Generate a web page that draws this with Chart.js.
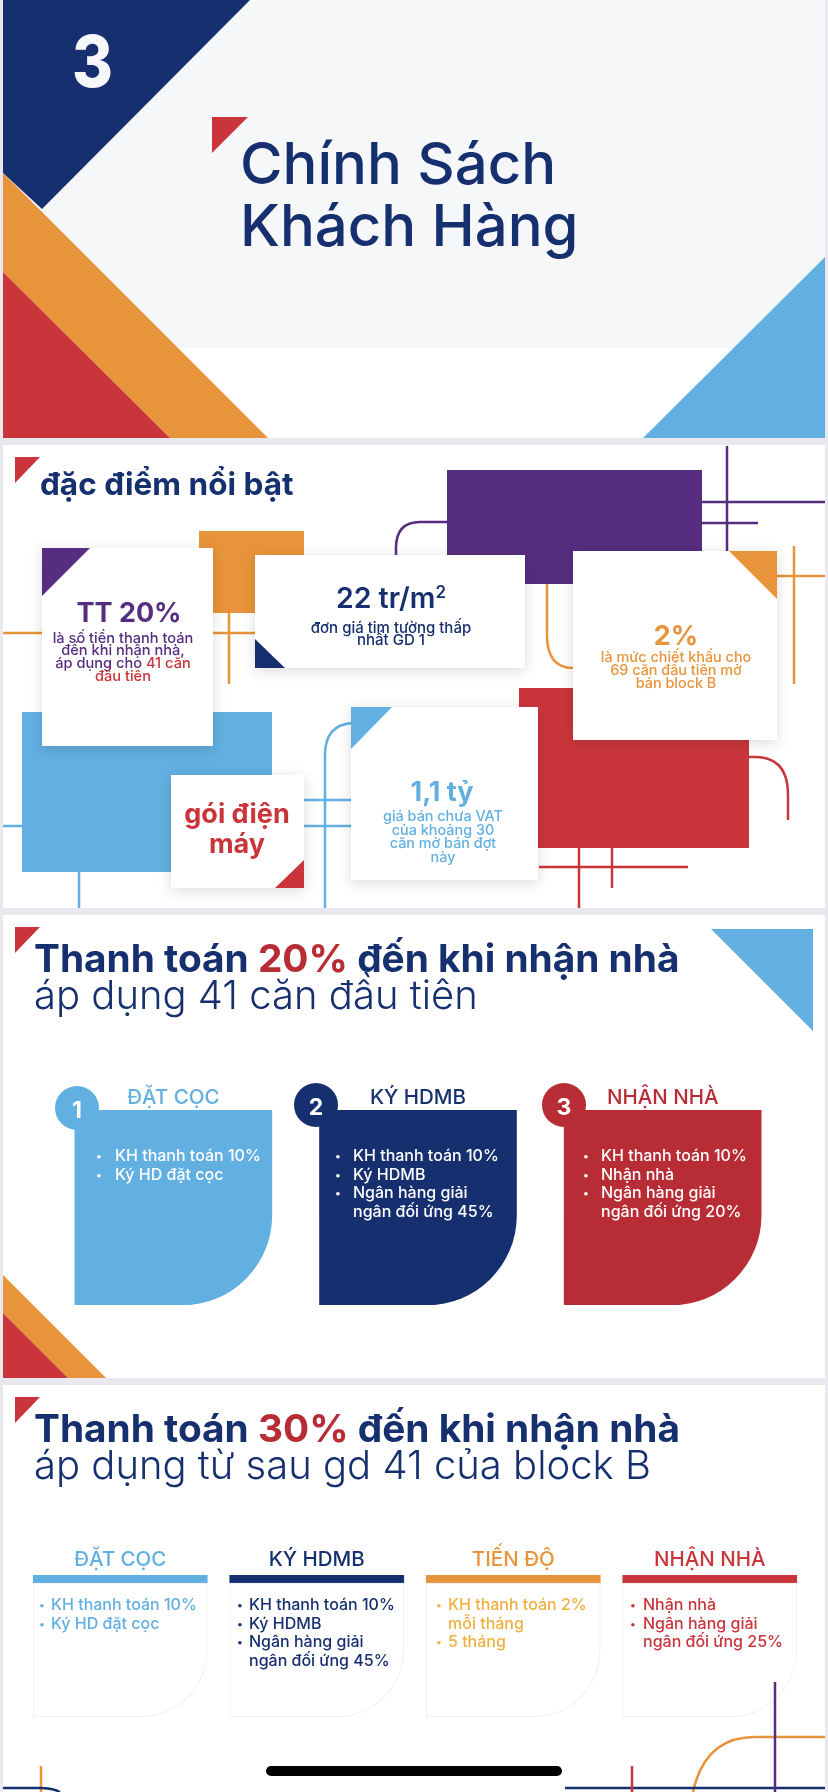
<!DOCTYPE html>
<html>
<head>
<meta charset="utf-8">
<script src="https://cdn.jsdelivr.net/npm/chart.js@4"></script>
<style>
  html, body { margin: 0; padding: 0; background: #e8e8ee; }
  #page { position: relative; width: 828px; height: 1792px; overflow: hidden; }
  svg, canvas { position: absolute; left: 0; top: 0; }
  text { font-family: Inter, "Noto Sans", sans-serif; }
  #chart3 { left: 51px; top: 1080px; }
  #chart4 { left: 22px; top: 1535px; }
</style>
</head>
<body>
<div id="page">
  <svg width="828" height="1792">
    <defs>
      <filter id="soft" x="-20%" y="-20%" width="140%" height="140%">
        <feDropShadow dx="0" dy="3" stdDeviation="7" flood-color="#000" flood-opacity="0.14"/>
      </filter>
    </defs>

    <!-- slide 1 -->
    <rect x="3" y="0" width="822" height="438" fill="#fff"/>
    <rect x="3" y="0" width="822" height="348" fill="#f6f7f9"/>
    <polygon points="3,0 250,0 42,209 3,173" fill="#16306f"/>
    <polygon points="3,173 268,438 170,438 3,272" fill="#e8943a"/>
    <polygon points="3,272 170,438 3,438" fill="#c9353b"/>
    <polygon points="643,438 825,257 825,438" fill="#62afe1"/>
    <polygon points="212,117 248,117 212,153" fill="#c9353b"/>

    <!-- slide 2 -->
    <rect x="3" y="445" width="822" height="463" fill="#fff"/>
    <polygon points="15,457 40,457 15,483" fill="#c9353b"/>
    <g fill="none" stroke-width="2.5">
      <path d="M447 522 H420 Q396 522 396 548 V556 M727 446 V552 M702 502 H825 M702 523 H758" stroke="#562d80"/>
      <path d="M3 633 H256 M229 612 V684 M547 584 V635 Q547 668 573 668 M794 546 V684 M777 576 H825" stroke="#e8943a"/>
      <path d="M749 757 H755 Q788 757 788 795 V820 M539 867 H688 M579 848 V908 M612 848 V888" stroke="#c9353b"/>
      <path d="M352 723 Q325 725 325 755 V908 M79 872 V908 M3 826 H22 M304 826 H352 M304 800 H352" stroke="#62afe1"/>
    </g>
    <rect x="447" y="470" width="255" height="114" fill="#562d80"/>
    <rect x="199" y="531" width="105" height="82" fill="#e8943a"/>
    <rect x="519" y="688" width="230" height="160" fill="#c9353b"/>
    <rect x="22" y="712" width="250" height="160" fill="#62afe1"/>
    <g fill="#fff" filter="url(#soft)">
      <rect x="42" y="548" width="171" height="198"/>
      <rect x="255" y="555" width="270" height="113"/>
      <rect x="573" y="551" width="204" height="189"/>
      <rect x="171" y="775" width="133" height="113"/>
      <rect x="351" y="707" width="187" height="173"/>
    </g>
    <polygon points="42,548 90,548 42,596" fill="#562d80"/>
    <polygon points="255,639 255,668 285,668" fill="#16306f"/>
    <polygon points="729,551 777,551 777,599" fill="#e8943a"/>
    <polygon points="304,860 304,888 275,888" fill="#c9353b"/>
    <polygon points="351,707 392,707 351,749" fill="#62afe1"/>

    <!-- slide 3 -->
    <rect x="3" y="915" width="822" height="463" fill="#fff"/>
    <polygon points="15,927 40,927 15,953" fill="#c9353b"/>
    <polygon points="711,929 813,929 813,1031" fill="#62afe1"/>
    <polygon points="3,1275 106,1378 68,1378 3,1313" fill="#e8943a"/>
    <polygon points="3,1313 68,1378 3,1378" fill="#c9353b"/>

    <!-- slide 4 -->
    <rect x="3" y="1385" width="822" height="407" fill="#fff"/>
    <polygon points="15,1397 40,1397 15,1423" fill="#c9353b"/>
  </svg>

  <canvas id="chart3" width="734" height="225"></canvas>
  <canvas id="chart4" width="786" height="182"></canvas>

  <svg id="front" width="828" height="1792">
    <g fill="none" stroke-width="2.5">
      <path d="M41 1766 V1792" stroke="#e8943a"/>
      <path d="M693 1792 Q705 1737 755 1737 H825" stroke="#e8943a"/>
      <path d="M3 1788 H40 Q52 1788 60 1792 M565 1788 H825" stroke="#16306f"/>
      <path d="M632 1766 V1792" stroke="#c9353b"/>
      <path d="M775 1682 V1792" stroke="#562d80"/>
    </g>
    <circle cx="77" cy="1108" r="22" fill="#62afe1"/>
    <circle cx="316" cy="1105" r="22" fill="#16306f"/>
    <circle cx="564" cy="1105" r="22" fill="#b72c35"/>
    <rect x="266" y="1766" width="296" height="10" rx="5" fill="#000"/>

    <text x="72" y="87" font-size="72" font-weight="800" fill="#f6f7f9" textLength="41" lengthAdjust="spacingAndGlyphs">3</text>
    <g font-size="58" font-weight="500" fill="#16306f">
      <text x="240" y="184">Chính Sách</text>
      <text x="240" y="246">Khách Hàng</text>
    </g>
    <text x="40" y="495" font-size="31.5" font-weight="700" fill="#16306f">đặc điểm nổi bật</text>

    <g text-anchor="middle">
      <text x="129" y="622" font-size="27" font-weight="700" fill="#562d80">TT 20%</text>
      <g font-size="14.6" font-weight="500" fill="#562d80">
        <text x="123" y="643">là số tiền thanh toán</text>
        <text x="123" y="655">đến khi nhận nhà,</text>
        <text x="123" y="668">áp dụng cho <tspan fill="#c9353b">41 căn</tspan></text>
        <text x="123" y="681" fill="#c9353b">đầu tiên</text>
      </g>
      <text x="391" y="608" font-size="28.5" font-weight="600" fill="#16306f">22 tr/m<tspan font-size="17" dy="-10">2</tspan></text>
      <g font-size="15" font-weight="500" fill="#16306f">
        <text x="391" y="633">đơn giá tim tường thấp</text>
        <text x="391" y="645">nhất GD 1</text>
      </g>
      <text x="676" y="645" font-size="27" font-weight="700" fill="#e8943a">2%</text>
      <g font-size="14.4" font-weight="500" fill="#e8943a">
        <text x="676" y="662">là mức chiết khấu cho</text>
        <text x="676" y="675">69 căn đầu tiên mở</text>
        <text x="676" y="688">bán block B</text>
      </g>
      <g font-size="27" font-weight="700" fill="#c9353b">
        <text x="237" y="823">gói điện</text>
        <text x="237" y="853">máy</text>
      </g>
      <text x="442" y="801" font-size="27" font-weight="700" fill="#62afe1">1,1 tỷ</text>
      <g font-size="14.4" font-weight="500" fill="#62afe1">
        <text x="443" y="821">giá bán chưa VAT</text>
        <text x="443" y="835">của khoảng 30</text>
        <text x="443" y="848">căn mở bán đợt</text>
        <text x="443" y="862">này</text>
      </g>
      <g font-size="23" font-weight="700" fill="#fff">
        <text x="77" y="1118">1</text>
        <text x="316" y="1115">2</text>
        <text x="564" y="1115">3</text>
      </g>
    </g>

    <g font-size="38.8" font-weight="700" fill="#16306f">
      <text x="34" y="972">Thanh toán <tspan fill="#b72c35">20%</tspan> đến khi nhận nhà</text>
      <text x="34" y="1442">Thanh toán <tspan fill="#b72c35">30%</tspan> đến khi nhận nhà</text>
    </g>
    <g font-size="40" font-weight="300" fill="#16306f">
      <text x="34" y="1009">áp dụng 41 căn đầu tiên</text>
      <text x="34" y="1479">áp dụng từ sau gd 41 của block B</text>
    </g>
    <g id="lists" font-size="16" font-weight="500"></g>
  </svg>
</div>

<script>
const stepsA = ["ĐẶT CỌC", "KÝ HDMB", "NHẬN NHÀ"];
const stepsAValues = [1, 1, 1];
const stepsAColors = ["#62afe1", "#16306f", "#b72c35"];
const stepsATickColors = ["#62afe1", "#16306f", "#b72c35"];

const stepsB = ["ĐẶT CỌC", "KÝ HDMB", "TIẾN ĐỘ", "NHẬN NHÀ"];
const stepsBValues = [1, 1, 1, 1];
const stepsBHeader = [0.06, 0.06, 0.06, 0.06];
const stepsBColors = ["#62afe1", "#16306f", "#e8943a", "#c9353b"];

const itemsA = [
  ["KH thanh toán 10%", "Ký HD đặt cọc"],
  ["KH thanh toán 10%", "Ký HDMB", "Ngân hàng giải", "+ngân đối ứng 45%"],
  ["KH thanh toán 10%", "Nhận nhà", "Ngân hàng giải", "+ngân đối ứng 20%"]
];
const itemsB = [
  ["KH thanh toán 10%", "Ký HD đặt cọc"],
  ["KH thanh toán 10%", "Ký HDMB", "Ngân hàng giải", "+ngân đối ứng 45%"],
  ["KH thanh toán 2%", "+mỗi tháng", "5 tháng"],
  ["Nhận nhà", "Ngân hàng giải", "+ngân đối ứng 25%"]
];

const lineOffsets = [0, 19, 37, 56];

function addLists(items, bulletX, textX, firstY, colors) {
  const group = document.getElementById("lists");
  items.forEach((lines, i) => {
    lines.forEach((line, j) => {
      const y = firstY + lineOffsets[j];
      const isWrapped = line.startsWith("+");
      if (!isWrapped) {
        const bullet = makeText(bulletX[i], y - 1, "•", colors[i]);
        bullet.setAttribute("font-size", "11");
        group.appendChild(bullet);
      }
      group.appendChild(makeText(textX[i], y, line.replace("+", ""), colors[i]));
    });
  });
}

function makeText(x, y, value, color) {
  const el = document.createElementNS("http://www.w3.org/2000/svg", "text");
  el.setAttribute("x", x);
  el.setAttribute("y", y);
  el.setAttribute("fill", color);
  el.textContent = value;
  return el;
}

addLists(itemsA, [96, 335, 583], [115, 353, 601], 1161, ["#fff", "#fff", "#fff"]);
addLists(itemsB, [39, 237, 436, 630], [51, 249, 448, 643], 1610, ["#62afe1", "#16306f", "#f0b040", "#c9353b"]);

const tickFont = { family: "Inter", size: 20.5, weight: "500" };

new Chart(document.getElementById("chart3"), {
  type: "bar",
  data: {
    labels: stepsA,
    datasets: [{
      data: stepsAValues,
      backgroundColor: stepsAColors,
      barThickness: 197,
      borderSkipped: false,
      borderRadius: { topLeft: 0, topRight: 0, bottomLeft: 0, bottomRight: 90 }
    }]
  },
  options: {
    responsive: false,
    animation: false,
    plugins: { legend: { display: false }, tooltip: { enabled: false } },
    scales: {
      x: {
        position: "top",
        afterFit: (scale) => { scale.height = 30; },
        grid: { display: false, drawTicks: false },
        border: { display: false },
        ticks: { color: (c) => stepsATickColors[c.index], font: tickFont, padding: 0, maxRotation: 0 }
      },
      y: { display: false, min: 0, max: 1 }
    }
  }
});

new Chart(document.getElementById("chart4"), {
  type: "bar",
  data: {
    labels: stepsB,
    datasets: [
      {
        data: stepsBValues,
        backgroundColor: "#fff",
        borderColor: "#eeeef1",
        borderWidth: 1,
        barThickness: 174,
        borderSkipped: false,
        borderRadius: { topLeft: 0, topRight: 0, bottomLeft: 0, bottomRight: 70 }
      },
      {
        data: stepsBHeader,
        backgroundColor: stepsBColors,
        barThickness: 174
      }
    ]
  },
  options: {
    responsive: false,
    animation: false,
    plugins: { legend: { display: false }, tooltip: { enabled: false } },
    scales: {
      x: {
        position: "top",
        stacked: true,
        afterFit: (scale) => { scale.height = 40; },
        grid: { display: false, drawTicks: false },
        border: { display: false },
        ticks: { color: (c) => stepsBColors[c.index], font: tickFont, padding: 3, maxRotation: 0 }
      },
      y: { display: false, stacked: true, min: 0, max: 1.06 }
    }
  }
});
</script>
</body>
</html>
